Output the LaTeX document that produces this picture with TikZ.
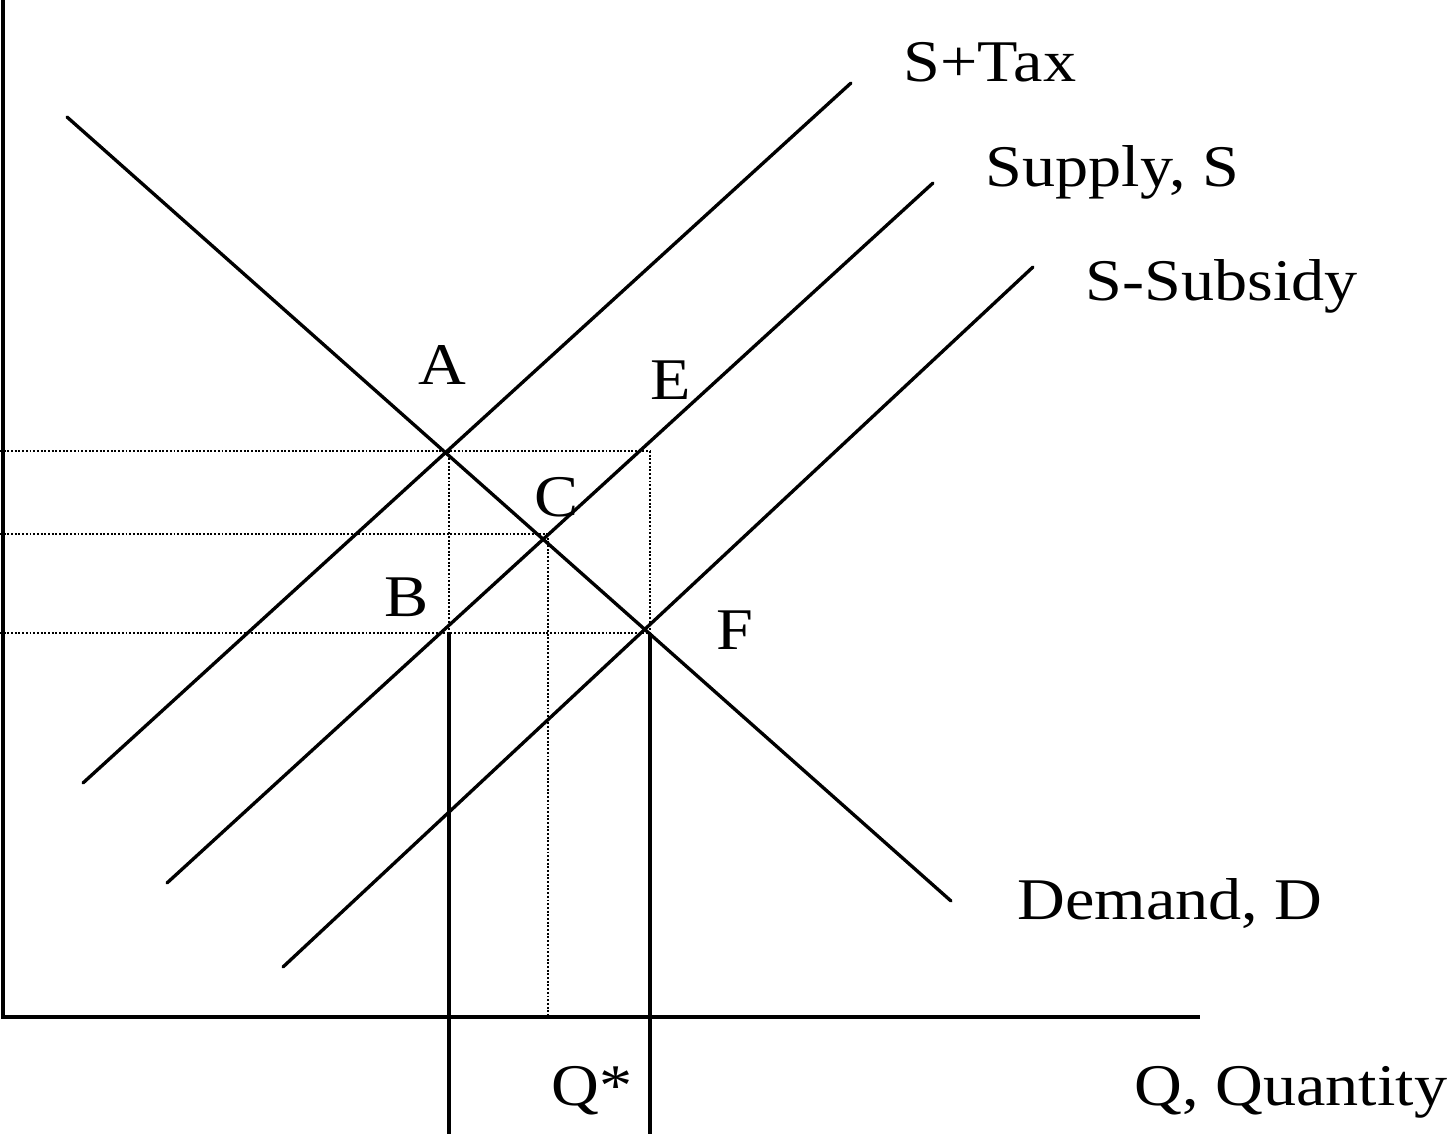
\documentclass[tikz,border=0pt]{standalone}
\usepackage{fontspec}
\setmainfont{Liberation Serif}[FakeStretch=1.12]
\usetikzlibrary{positioning}

\begin{document}
\begin{tikzpicture}[
  x=0.01cm, y=-0.01cm,
  curve/.style={line width=0.95pt, line cap=round},
  guide/.style={line width=0.8pt, dash pattern=on 0.55pt off 0.5pt},
  lbl/.style={font=\fontsize{16.8}{20}\selectfont, inner sep=0pt, anchor=base west}
]
\useasboundingbox (0,0) rectangle (1448,1134);

% Axes
\coordinate (top) at (3,0);
\coordinate (O) at (3,1017);
\coordinate (right) at (1200,1017);
\draw[line width=0.95pt] (top) -- (O) -- (right);

% Demand and the three supply curves
\coordinate (D1) at (67,117);   \coordinate (D2) at (951,901);
\coordinate (T1) at (83,783);   \coordinate (T2) at (851,83);
\coordinate (S1) at (167,883);  \coordinate (S2) at (933,183);
\coordinate (U1) at (283,967);  \coordinate (U2) at (1033,267);
\draw[curve] (D1) -- (D2);
\draw[curve] (T1) -- (T2);
\draw[curve] (S1) -- (S2);
\draw[curve] (U1) -- (U2);

% Points
\coordinate (A) at (449,451);
\coordinate (E) at (650,451);
\coordinate (C) at (548,534);
\coordinate (B) at (449,633);
\coordinate (F) at (650,633);

% Guide lines
\draw[guide] (0,451) -- (E);
\draw[guide] (0,534) -- (C);
\draw[guide] (0,633) -- (F);
\draw[guide] (A) -- (B);
\draw[guide] (E) -- (F);
\draw[guide] (C) -- (C |- O);
\draw[line width=0.95pt] (B) -- (449,1134);
\draw[line width=0.95pt] (F) -- (650,1134);

% Labels
\node[lbl] (tax) at (903,82) {S+Tax};
\node[lbl] (sup) at (985,187) {Supply, S};
\node[lbl] (sub) at (1085,301) {S-Subsidy};
\node[lbl] (dem) at (1017,920) {Demand, D};
\node[lbl] (lA) at (418,385) {A};
\node[lbl] (lE) at (650,400) {E};
\node[lbl] (lC) at (534,517) {C};
\node[lbl] (lB) at (384,617) {B};
\node[lbl] (lF) at (716,650) {F};
\node[lbl] (qstar) at (551,1106) {Q*};
\node[lbl] (qty) at (1134,1106) {Q, Quantity};

\end{tikzpicture}
\end{document}
